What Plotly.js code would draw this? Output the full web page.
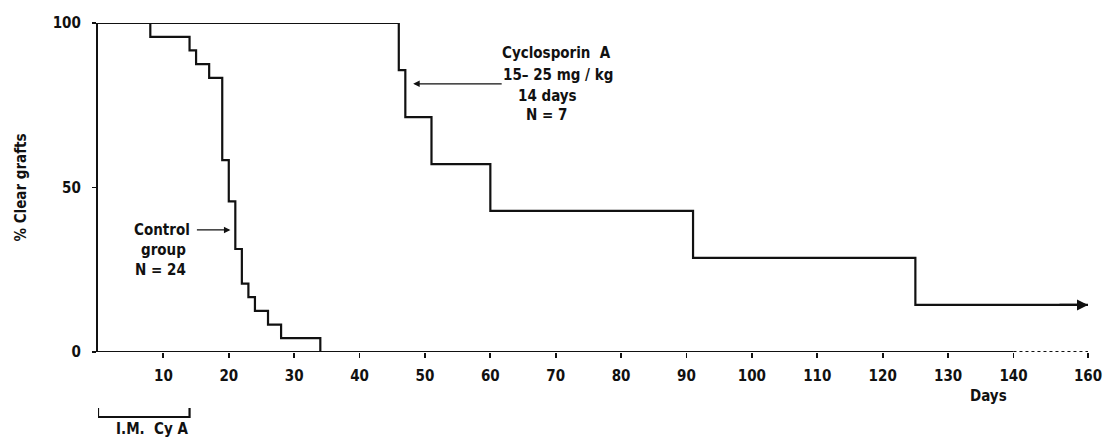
<!DOCTYPE html>
<html><head><meta charset="utf-8">
<script src="https://cdn.plot.ly/plotly-3.0.1.min.js"></script>
<style>html,body{margin:0;padding:0;background:#fff}#chart{width:1103px;height:439px}</style>
</head><body><div id="chart"></div>
<script>
// ---- data ----
const controlDays = [0, 8, 14, 15, 17, 19, 20, 21, 22, 23, 24, 26, 28, 34];
const controlPct  = [100, 95.8, 91.7, 87.5, 83.3, 58.3, 45.8, 31.3, 20.8, 16.7, 12.5, 8.3, 4.2, 0];
const cyaDays = [0, 46, 47, 51, 60, 91, 125, 160];
const cyaPct  = [100, 85.7, 71.4, 57.1, 42.9, 28.6, 14.3, 14.3];
const xTickDays = [10, 20, 30, 40, 50, 60, 70, 80, 90, 100, 110, 120, 130, 140, 160];
const xTickText = ["10","20","30","40","50","60","70","80","90","100","110","120","130","140","160"];
const yTickVals = [0, 50, 100];
const yTickText = ["0", "50", "100"];
const imCyaDays = [0, 14];

// broken x axis: 140 -> 160 is compressed
const BREAK_START = 140, BREAK_END = 160, BREAK_SPAN = 11.4;
function bx(d){ return d <= BREAK_START ? d : BREAK_START + (d - BREAK_START) * BREAK_SPAN / (BREAK_END - BREAK_START); }
const XMAX = bx(BREAK_END);

const FONT = "'Liberation Sans Narrow', 'DejaVu Sans Condensed', 'Arial Narrow', sans-serif";
const INK = "#111";
const FS = 15;

const traces = [
  {x: controlDays.map(bx), y: controlPct, mode: "lines", line: {shape: "hv", color: INK, width: 2.2}, cliponaxis: false, hoverinfo: "skip", name: "Control group"},
  {x: cyaDays.map(bx), y: cyaPct, mode: "lines", line: {shape: "hv", color: INK, width: 2.2}, cliponaxis: false, hoverinfo: "skip", name: "Cyclosporin A"}
];

const lastX = bx(cyaDays[cyaDays.length-1]);
const lastY = cyaPct[cyaPct.length-1];

function txt(text, x, y, xref, yref, opts){
  return Object.assign({text: text, x: x, y: y, xref: xref, yref: yref, showarrow: false,
    font: {family: FONT, size: FS, color: INK, weight: "bold"}}, opts || {});
}

const annotations = [
  // Control label
  txt("Control", 162, 230, "paper", "paper"),
  txt("group", 163, 250, "paper", "paper"),
  txt("N = 24", 160, 270, "paper", "paper"),
  // Cyclosporin label
  txt("Cyclosporin  A", 556, 53, "paper", "paper"),
  txt("15– 25 mg / kg", 558, 75, "paper", "paper"),
  txt("14 days", 547, 96, "paper", "paper"),
  txt("N = 7", 546, 115, "paper", "paper"),
  // x title and bracket label
  txt("Days", 988, 396, "paper", "paper"),
  txt("I.M.  Cy A", 152, 429, "paper", "paper"),
  // arrows
  {x: 20.25, y: 37.1, xref: "x", yref: "y", text: "", showarrow: true, ax: -35, ay: 0,
   arrowhead: 2, arrowwidth: 1.3, arrowsize: 1, arrowcolor: INK, standoff: 0},
  {x: 48.2, y: 81.5, xref: "x", yref: "y", text: "", showarrow: true, ax: 90, ay: 0,
   arrowhead: 2, arrowwidth: 1.3, arrowsize: 1, arrowcolor: INK, standoff: 0},
  {x: lastX, y: lastY, xref: "x", yref: "y", text: "", showarrow: true, ax: -30, ay: 0,
   arrowhead: 2, arrowwidth: 2.2, arrowsize: 1, arrowcolor: INK, standoff: 0}
];

// convert pixel positions for paper-referenced annotations
const W = 1103, H = 439, ML = 98, MR = 15, MT = 23, MB = 87;
const PW = W - ML - MR, PH = H - MT - MB;
annotations.forEach(a => {
  if (a.xref === "paper") { a.x = (a.x - ML) / PW; a.y = (H - MB - a.y) / PH; a.xanchor = "center"; a.yanchor = "middle"; }
});

const pyPaper = p => (H - MB - p) / PH;
const shapes = [
  {type: "line", xref: "x", yref: "y", x0: 0, x1: BREAK_START, y0: 0, y1: 0, line: {color: INK, width: 2.2}},
  {type: "line", xref: "x", yref: "y", x0: BREAK_START, x1: XMAX, y0: 0, y1: 0, line: {color: INK, width: 2, dash: "dot"}},
  {type: "path", xref: "x", yref: "paper",
   path: `M ${bx(imCyaDays[0])},${pyPaper(408)} L ${bx(imCyaDays[0])},${pyPaper(417)} L ${bx(imCyaDays[1])},${pyPaper(417)} L ${bx(imCyaDays[1])},${pyPaper(408)}`,
   line: {color: INK, width: 2.2}}
];

const tickFont = {family: FONT, size: FS, color: INK, weight: "bold"};
const layout = {
  width: W, height: H,
  margin: {l: ML, r: MR, t: MT, b: MB, pad: 0},
  paper_bgcolor: "#fff", plot_bgcolor: "#fff",
  showlegend: false,
  font: {family: FONT, size: FS, color: INK},
  xaxis: {range: [0, XMAX], tickvals: xTickDays.map(bx), ticktext: xTickText,
    showgrid: false, zeroline: false, showline: false, ticks: "outside", ticklen: 5, tickwidth: 1.8, tickcolor: INK,
    tickfont: tickFont, ticklabelstandoff: 5, fixedrange: true},
  yaxis: {range: [0, 100], tickvals: yTickVals, ticktext: yTickText,
    showgrid: false, zeroline: false, showline: true, linecolor: INK, linewidth: 2.2,
    ticks: "outside", ticklen: 4, tickwidth: 1.8, tickcolor: INK,
    tickfont: tickFont, ticklabelstandoff: 8,
    title: {text: "% Clear grafts", standoff: 22, font: {family: FONT, size: FS, color: INK, weight: "bold"}}, fixedrange: true},
  annotations: annotations,
  shapes: shapes
};

Plotly.newPlot("chart", traces, layout, {displayModeBar: false, staticPlot: true});
</script>
</body></html>
